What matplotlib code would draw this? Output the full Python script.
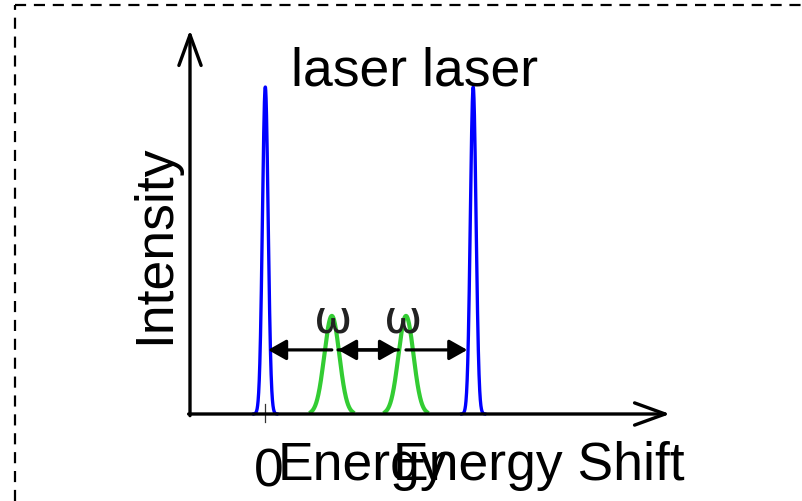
import numpy as np
import matplotlib
matplotlib.use("Agg")
import matplotlib.pyplot as plt
from matplotlib.lines import Line2D

plt.rcParams['font.family'] = ['Liberation Sans', 'DejaVu Sans']

# Peak centres (energy shift units) and heights (relative intensity)
laser_pos = [0.0, 3.0]
laser_height = [1.0, 1.0]
laser_sigma = 0.041
raman_pos = [0.96, 2.03]
raman_height = [0.30, 0.30]
raman_sigma = 0.108
arrow_level = 0.196
tick_values = [0]
tick_labels = ["0"]

fig = plt.figure(figsize=(8.02, 5.02), dpi=100)
ax = fig.add_axes([0, 0, 1, 1])
xu, yu = 69.3, 327.0
ax.set_xlim(-265.3 / xu, (802 - 265.3) / xu)
ax.set_ylim(-87.0 / yu, 415.0 / yu)
ax.axis('off')

# dashed frame
fig.add_artist(Line2D([15 / 802, 1.0], [1 - 6 / 502, 1 - 6 / 502], color='black',
                      lw=1.6, ls=(0, (5, 3.5)), transform=fig.transFigure))
fig.add_artist(Line2D([15 / 802, 15 / 802], [0, 1 - 6 / 502], color='black',
                      lw=1.6, ls=(0, (5, 3.5)), transform=fig.transFigure))

# axes with open arrowheads
x0 = (190 - 265.3) / xu
ax.annotate('', xy=((670 - 265.3) / xu, 0), xytext=(x0 - 0.02, 0),
            arrowprops=dict(arrowstyle='->,head_length=2.2,head_width=0.8', lw=2.4,
                            color='black', mutation_scale=10, shrinkA=0, shrinkB=0))
ax.annotate('', xy=(x0, (415 - 31) / yu), xytext=(x0, -0.005),
            arrowprops=dict(arrowstyle='->,head_length=2.2,head_width=0.8', lw=2.4,
                            color='black', mutation_scale=10, shrinkA=0, shrinkB=0))

# tick marks
for t in tick_values:
    ax.plot([t, t], [10 / yu, -8 / yu], color='#333333', lw=0.9)

# laser lines
for c, h in zip(laser_pos, laser_height):
    x = np.linspace(c - 0.166, c + 0.166, 200)
    ax.plot(x, h * np.exp(-(x - c) ** 2 / (2 * laser_sigma ** 2)), color='#0000ff', lw=2.4)

# Raman lines
for c, h in zip(raman_pos, raman_height):
    x = np.linspace(c - 0.30, c + 0.30, 200)
    ax.plot(x, h * np.exp(-(x - c) ** 2 / (2 * raman_sigma ** 2)), color='#33cc33', lw=3.0)

# shift arrows
heads = [(0.96, 0.04), (1.92, 1.05), (1.05, 1.915), (2.03, 2.915)]
for start, end in heads:
    ax.annotate('', xy=(end, arrow_level), xytext=(start, arrow_level),
                arrowprops=dict(arrowstyle='-|>,head_length=1.1,head_width=0.62', lw=2.3,
                                color='black', mutation_scale=10, shrinkA=0, shrinkB=0))

# omega labels
for c in [0.98, 1.99]:
    ax.text(c, 0.29, 'ω', fontsize=33, family='DejaVu Sans', color='#222222',
            ha='center', va='center')

ax.text(2.16, (415 - 85) / yu, 'laser laser', fontsize=38.5, ha='center', va='baseline')
ax.text((155 - 265.3) / xu, (415 - 244) / yu, 'Intensity', fontsize=38.5, rotation=90,
        ha='center', va='center')
ax.text(0.05, -0.22, tick_labels[0], fontsize=38.5, ha='center', va='baseline')
ax.text(0.183, -0.199, 'Energy', fontsize=38.5, ha='left', va='baseline')
ax.text(1.843, -0.199, 'Energy Shift', fontsize=38.5, ha='left', va='baseline')

fig.savefig('out.png', dpi=100)
